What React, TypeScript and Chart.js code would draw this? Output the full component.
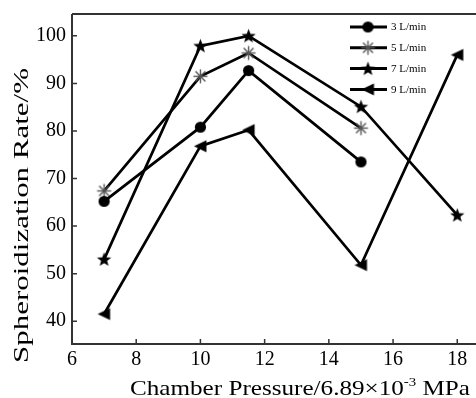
import React, { useEffect, useRef } from "react";
import { Chart, registerables } from "chart.js";

Chart.register(...registerables);

// ---- data ----
const pressures = [7, 10, 11.5, 15, 18];
const rate3 = [65.2, 80.8, 92.7, 73.5, null];
const rate5 = [67.4, 91.5, 96.4, 80.6, null];
const rate7 = [53.0, 97.9, 100.0, 85.1, 62.3];
const rate9 = [41.5, 76.8, 80.2, 51.8, 96.0];
const seriesLabels = ["3 L/min", "5 L/min", "7 L/min", "9 L/min"];
const xTicks = [6, 8, 10, 12, 14, 16, 18];
const yTicks = [40, 50, 60, 70, 80, 90, 100];
const xTitleMain = "Chamber Pressure/6.89\u00D710";
const xTitleSup = "-3";
const xTitleEnd = " MPa";
const yTitle = "Spheroidization Rate/%";

const FONT = "'Liberation Serif', 'Times New Roman', serif";

function makeCanvas(w: number, h: number) {
  const c = document.createElement("canvas");
  c.width = w;
  c.height = h;
  return c;
}

function circleMarker() {
  const c = makeCanvas(13, 13);
  const ctx = c.getContext("2d")!;
  ctx.fillStyle = "#000";
  ctx.beginPath();
  ctx.arc(6.5, 6.5, 5.6, 0, Math.PI * 2);
  ctx.fill();
  return c;
}

function asteriskMarker() {
  const c = makeCanvas(17, 17);
  const ctx = c.getContext("2d")!;
  ctx.strokeStyle = "#555";
  ctx.lineWidth = 1.4;
  const r = 7;
  for (let k = 0; k < 4; k++) {
    const a = (k * Math.PI) / 4;
    ctx.beginPath();
    ctx.moveTo(8.5 - r * Math.cos(a), 8.5 - r * Math.sin(a));
    ctx.lineTo(8.5 + r * Math.cos(a), 8.5 + r * Math.sin(a));
    ctx.stroke();
  }
  return c;
}

function starMarker() {
  const c = makeCanvas(17, 17);
  const ctx = c.getContext("2d")!;
  ctx.fillStyle = "#000";
  ctx.beginPath();
  for (let k = 0; k < 10; k++) {
    const a = -Math.PI / 2 + (k * Math.PI) / 5;
    const r = k % 2 === 0 ? 7.5 : 3.2;
    const x = 8.5 + r * Math.cos(a);
    const y = 9 + r * Math.sin(a);
    if (k === 0) ctx.moveTo(x, y);
    else ctx.lineTo(x, y);
  }
  ctx.closePath();
  ctx.fill();
  return c;
}

function triangleMarker() {
  const c = makeCanvas(15, 15);
  const ctx = c.getContext("2d")!;
  ctx.fillStyle = "#000";
  ctx.beginPath();
  ctx.moveTo(1, 7.5);
  ctx.lineTo(13.5, 1.5);
  ctx.lineTo(13.5, 13.5);
  ctx.closePath();
  ctx.fill();
  return c;
}

function toPoints(vals: (number | null)[]) {
  const pts: { x: number; y: number }[] = [];
  vals.forEach((v, i) => {
    if (v !== null) pts.push({ x: pressures[i], y: v });
  });
  return pts;
}

export default function App() {
  const ref = useRef<HTMLCanvasElement>(null);

  useEffect(() => {
    const canvas = ref.current!;
    const markers = [circleMarker(), asteriskMarker(), starMarker(), triangleMarker()];
    const series = [rate3, rate5, rate7, rate9];

    const datasets = series.map((s, i) => ({
      label: seriesLabels[i],
      data: toPoints(s),
      borderColor: "#000",
      backgroundColor: "#000",
      borderWidth: 2.7,
      pointStyle: markers[i] as any,
      pointRadius: 6,
      tension: 0,
      clip: false as any,
    }));

    const framePlugin = {
      id: "frame",
      beforeDatasetsDraw(chart: any) {
        const ctx = chart.ctx;
        const a = chart.chartArea;
        const xs = chart.scales.x;
        const ys = chart.scales.y;
        const right = chart.width;
        ctx.save();
        ctx.strokeStyle = "#333";
        ctx.lineWidth = 2;
        ctx.beginPath();
        ctx.moveTo(a.left, a.top);
        ctx.lineTo(right, a.top);
        ctx.moveTo(a.left, a.top);
        ctx.lineTo(a.left, a.bottom);
        ctx.lineTo(right, a.bottom);
        ctx.stroke();
        ctx.lineWidth = 1.5;
        ctx.beginPath();
        yTicks.forEach((v) => {
          const y = ys.getPixelForValue(v);
          ctx.moveTo(a.left, y);
          ctx.lineTo(a.left + 5, y);
        });
        xTicks.forEach((v) => {
          const x = xs.getPixelForValue(v);
          ctx.moveTo(x, a.bottom);
          ctx.lineTo(x, a.bottom - 5);
        });
        ctx.stroke();
        ctx.restore();
      },
      afterDraw(chart: any) {
        const ctx = chart.ctx;
        ctx.save();
        ctx.fillStyle = "#000";
        // legend
        seriesLabels.forEach((lab, i) => {
          const y = 27 + i * 20.8;
          ctx.strokeStyle = "#000";
          ctx.lineWidth = 3;
          ctx.beginPath();
          ctx.moveTo(350, y);
          ctx.lineTo(387, y);
          ctx.stroke();
          const m = markers[i];
          ctx.drawImage(m, 368 - m.width / 2, y - m.height / 2);
          ctx.font = `11px ${FONT}`;
          ctx.textBaseline = "middle";
          ctx.textAlign = "left";
          ctx.fillText(lab, 391, y + 0.5);
        });
        // x title
        const mainFont = `22px ${FONT}`;
        const supFont = `13px ${FONT}`;
        ctx.font = mainFont;
        const w1 = ctx.measureText(xTitleMain).width;
        const w3 = ctx.measureText(xTitleEnd).width;
        ctx.font = supFont;
        const w2 = ctx.measureText(xTitleSup).width;
        const total = w1 + w2 + w3;
        const targetW = 340;
        const sx = targetW / total;
        ctx.save();
        ctx.translate(130, 395);
        ctx.scale(sx, 1);
        ctx.textBaseline = "alphabetic";
        ctx.font = mainFont;
        ctx.fillText(xTitleMain, 0, 0);
        ctx.font = supFont;
        ctx.fillText(xTitleSup, w1, -9);
        ctx.font = mainFont;
        ctx.fillText(xTitleEnd, w1 + w2, 0);
        ctx.restore();
        // y title
        ctx.save();
        ctx.font = `22px ${FONT}`;
        const wy = ctx.measureText(yTitle).width;
        const targetH = 295;
        ctx.translate(28, 363);
        ctx.rotate(-Math.PI / 2);
        ctx.scale(targetH / wy, 1);
        ctx.textBaseline = "alphabetic";
        ctx.textAlign = "left";
        ctx.fillText(yTitle, 0, 0);
        ctx.restore();
        ctx.restore();
      },
    };

    const tickFont = { family: FONT, size: 20 };

    const chart = new Chart(canvas, {
      type: "line",
      data: { datasets },
      options: {
        animation: false,
        responsive: false,
        devicePixelRatio: 1,
        layout: { padding: { top: 14, right: 0, bottom: 0, left: 0 } },
        plugins: {
          legend: { display: false },
          tooltip: { enabled: false },
        },
        scales: {
          x: {
            type: "linear",
            min: 6,
            max: 18.3125,
            afterBuildTicks: (s: any) => {
              s.ticks = xTicks.map((v) => ({ value: v }));
            },
            afterFit: (s: any) => {
              s.height = 54;
              s.paddingLeft = 0;
              s.paddingRight = 0;
            },
            grid: { display: false, drawTicks: false },
            border: { display: false },
            ticks: {
              font: tickFont,
              color: "#000",
              padding: 4,
              maxRotation: 0,
              autoSkip: false,
              callback: (v: any) => String(v),
            },
          },
          y: {
            type: "linear",
            min: 35.2,
            max: 104.6,
            afterBuildTicks: (s: any) => {
              s.ticks = yTicks.map((v) => ({ value: v }));
            },
            afterFit: (s: any) => {
              s.width = 72;
              s.paddingTop = 0;
              s.paddingBottom = 0;
            },
            grid: { display: false, drawTicks: false },
            border: { display: false },
            ticks: {
              font: tickFont,
              color: "#000",
              padding: 6,
              autoSkip: false,
              callback: (v: any) => String(v),
            },
          },
        },
      },
      plugins: [framePlugin],
    });

    return () => chart.destroy();
  }, []);

  return (
    <canvas
      ref={ref}
      width={476}
      height={398}
      style={{ position: "absolute", left: 0, top: 0, width: 476, height: 398, background: "#fff" }}
    />
  );
}
